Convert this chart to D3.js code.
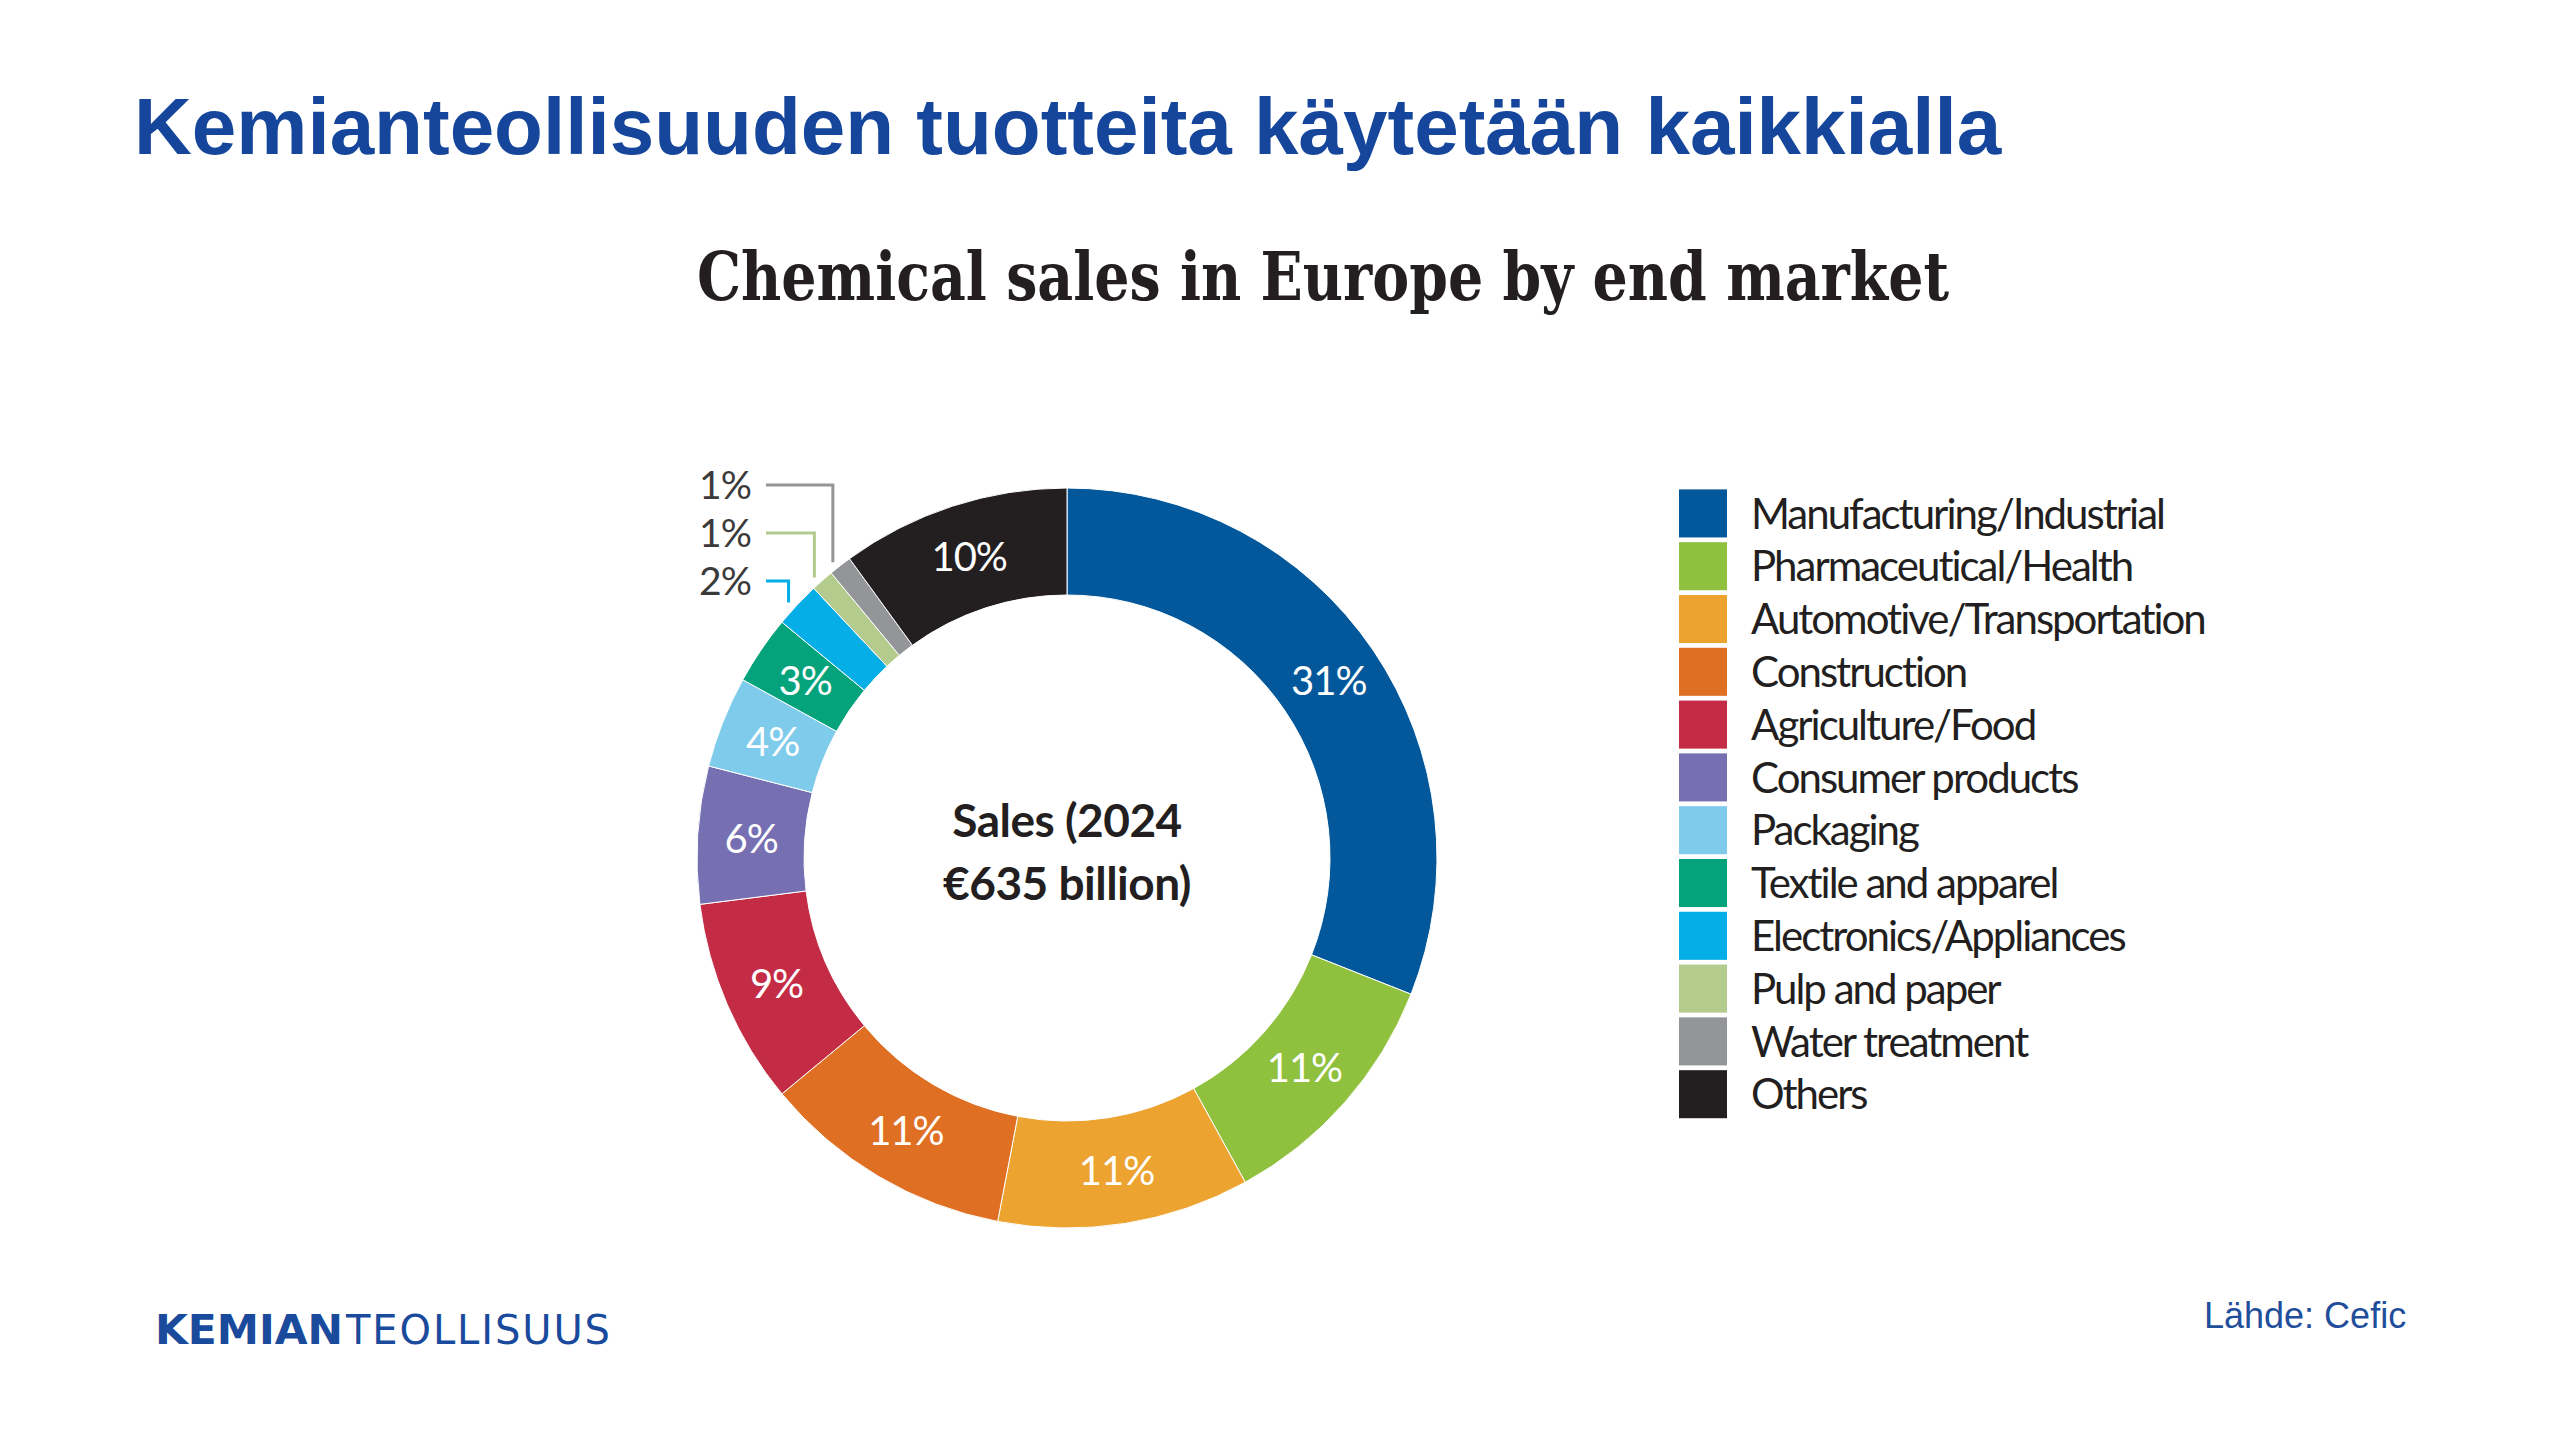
<!DOCTYPE html>
<html>
<head>
	<meta charset="utf-8">
	<title>Kemianteollisuuden tuotteita käytetään kaikkialla</title>
	<script src="https://cdnjs.cloudflare.com/ajax/libs/d3/7.8.5/d3.min.js"></script>
	<style>
		html, body { margin: 0; padding: 0; background: #fff; }
		svg { display: block; }
	</style>
</head>
<body>
	<script>
		// data
		var markets = [
			'Manufacturing/Industrial',
			'Pharmaceutical/Health',
			'Automotive/Transportation',
			'Construction',
			'Agriculture/Food',
			'Consumer products',
			'Packaging',
			'Textile and apparel',
			'Electronics/Appliances',
			'Pulp and paper',
			'Water treatment',
			'Others'
		];
		var shares = [31, 11, 11, 11, 9, 6, 4, 3, 2, 1, 1, 10];
		var colors = ['#02589a', '#8fc13e', '#eca32f', '#df6f22', '#c42c45', '#7670b3',
			'#7fcbec', '#04a37c', '#05aee6', '#b3cb8d', '#939598', '#231f20'];
		// slices too thin for an inner label get a callout instead
		var calloutMarkets = ['Water treatment', 'Pulp and paper', 'Electronics/Appliances'];

		var W = 2560, H = 1440;
		var cx = 1067, cy = 858, rOuter = 370, rInner = 263;

		var svg = d3.select('body').append('svg')
			.attr('width', W)
			.attr('height', H);

		// slide title
		svg.append('text')
			.attr('x', 134)
			.attr('y', 154)
			.attr('font-family', 'Liberation Sans, Arial, sans-serif')
			.attr('font-weight', 'bold')
			.attr('font-size', 80)
			.attr('fill', '#15469b')
			.text('Kemianteollisuuden tuotteita käytetään kaikkialla');

		// chart title, squeezed to the width of the original
		svg.append('text')
			.attr('x', 697)
			.attr('y', 300)
			.attr('font-family', 'DejaVu Serif, serif')
			.attr('font-weight', 'bold')
			.attr('font-size', 68)
			.attr('fill', '#231f20')
			.attr('textLength', 1252)
			.attr('lengthAdjust', 'spacingAndGlyphs')
			.text('Chemical sales in Europe by end market');

		var data = markets.map(function (m, i) {
			return { market: m, share: shares[i], color: colors[i] };
		});

		var pie = d3.pie()
			.sort(null)
			.value(function (d) { return d.share; });

		var arc = d3.arc()
			.innerRadius(rInner)
			.outerRadius(rOuter);

		var arcs = pie(data);

		var g = svg.append('g')
			.attr('transform', 'translate(' + cx + ',' + cy + ')');

		g.selectAll('path')
			.data(arcs)
			.enter()
			.append('path')
			.attr('d', arc)
			.attr('fill', function (d) { return d.data.color; })
			.attr('stroke', '#fff')
			.attr('stroke-width', 1);

		g.selectAll('text.pct')
			.data(arcs.filter(function (d) { return calloutMarkets.indexOf(d.data.market) < 0; }))
			.enter()
			.append('text')
			.attr('class', 'pct')
			.attr('transform', function (d) { return 'translate(' + arc.centroid(d) + ')'; })
			.attr('text-anchor', 'middle')
			.attr('dy', '0.36em')
			.attr('font-family', 'Lato, sans-serif')
			.attr('font-size', 40)
			.attr('letter-spacing', -1)
			.attr('fill', '#fff')
			.text(function (d) { return d.data.share + '%'; });

		// callouts for the thin slices
		var calloutArcs = calloutMarkets.map(function (m) {
			return arcs.find(function (d) { return d.data.market === m; });
		});
		var rowY = d3.scalePoint()
			.domain(calloutMarkets)
			.range([-373, -277]);
		var elbow = d3.arc().innerRadius(rOuter + 12).outerRadius(rOuter + 12);

		var co = g.selectAll('g.callout')
			.data(calloutArcs)
			.enter()
			.append('g')
			.attr('class', 'callout');

		co.append('polyline')
			.attr('points', function (d) {
				var p = elbow.centroid(d);
				var y = rowY(d.data.market);
				return [[766 - cx, y], [p[0], y], [p[0], p[1] + 6]].join(' ');
			})
			.attr('fill', 'none')
			.attr('stroke', function (d) { return d.data.color; })
			.attr('stroke-width', 3);

		co.append('text')
			.attr('x', 751 - cx)
			.attr('y', function (d) { return rowY(d.data.market); })
			.attr('dy', '0.36em')
			.attr('text-anchor', 'end')
			.attr('font-family', 'Lato, sans-serif')
			.attr('font-size', 39)
			.attr('letter-spacing', -1)
			.attr('fill', '#3a3a3a')
			.text(function (d) { return d.data.share + '%'; });

		// centre text
		var centre = g.append('text')
			.attr('text-anchor', 'middle')
			.attr('font-family', 'Lato, sans-serif')
			.attr('font-weight', 'bold')
			.attr('font-size', 46)
			.attr('letter-spacing', -0.5)
			.attr('fill', '#231f20');
		centre.append('tspan').attr('x', 0).attr('y', -21).text('Sales (2024');
		centre.append('tspan').attr('x', 0).attr('y', 42).text('€635 billion)');

		// legend
		var rows = d3.scaleBand()
			.domain(markets)
			.range([487, 487 + 12 * 52.8])
			.paddingInner(0.09)
			.paddingOuter(0.045);

		var lg = svg.append('g');
		var item = lg.selectAll('g')
			.data(data)
			.enter()
			.append('g')
			.attr('transform', function (d) { return 'translate(1679,' + rows(d.market) + ')'; });

		item.append('rect')
			.attr('width', 48)
			.attr('height', rows.bandwidth())
			.attr('fill', function (d) { return d.color; });

		item.append('text')
			.attr('x', 72)
			.attr('y', rows.bandwidth() / 2)
			.attr('dy', '0.36em')
			.attr('font-family', 'Lato, sans-serif')
			.attr('font-size', 42)
			.attr('letter-spacing', -2)
			.attr('fill', '#231f20')
			.text(function (d) { return d.market; });

		// footer
		svg.append('text')
			.attr('x', 155)
			.attr('y', 1344)
			.attr('font-family', 'DejaVu Sans, sans-serif')
			.attr('font-weight', 'bold')
			.attr('font-size', 40)
			.attr('fill', '#1a4a9c')
			.attr('textLength', 188)
			.attr('lengthAdjust', 'spacingAndGlyphs')
			.text('KEMIAN');
		svg.append('text')
			.attr('x', 346)
			.attr('y', 1344)
			.attr('font-family', 'DejaVu Sans, sans-serif')
			.attr('font-size', 40)
			.attr('fill', '#1a4a9c')
			.attr('textLength', 264)
			.attr('lengthAdjust', 'spacing')
			.text('TEOLLISUUS');

		svg.append('text')
			.attr('x', 2204)
			.attr('y', 1328)
			.attr('font-family', 'Liberation Sans, Arial, sans-serif')
			.attr('font-size', 36)
			.attr('fill', '#1f4e9a')
			.text('Lähde: Cefic');
	</script>
</body>
</html>
